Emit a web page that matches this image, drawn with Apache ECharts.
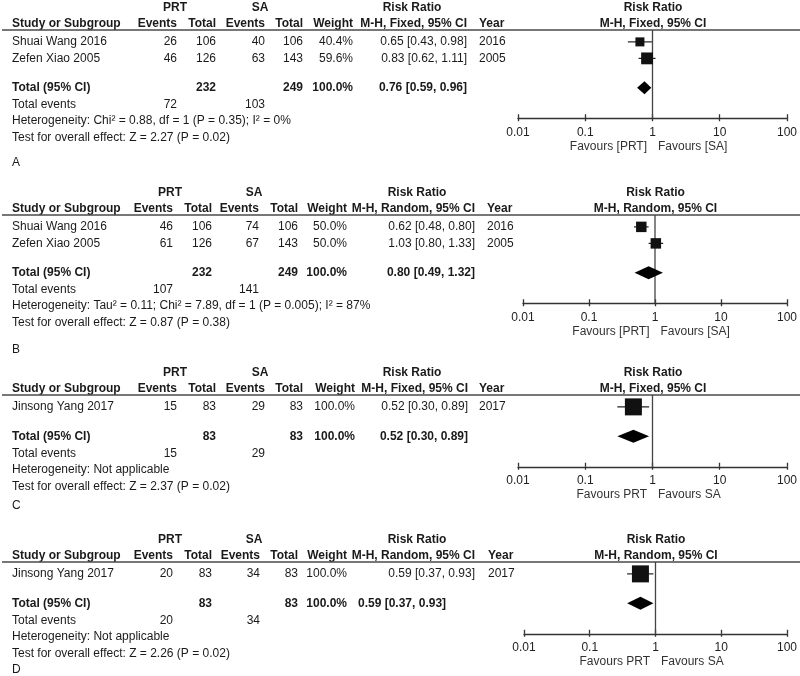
<!DOCTYPE html>
<html><head><meta charset="utf-8">
<script src="https://cdn.jsdelivr.net/npm/echarts@6/dist/echarts.min.js"></script>
<style>html,body{margin:0;padding:0;background:#fff}#c{width:800px;height:676px}</style>
</head><body><div id="c"></div>
<script>
// ---------------- DATA ----------------
const panelLabels = ['A', 'B', 'C', 'D'];
const methodLabels = ['M-H, Fixed, 95% CI', 'M-H, Random, 95% CI', 'M-H, Fixed, 95% CI', 'M-H, Random, 95% CI'];

const studiesA = ['Shuai Wang 2016', 'Zefen Xiao 2005'];
const prtEventsA = [26, 46];
const prtTotalA = [106, 126];
const saEventsA = [40, 63];
const saTotalA = [106, 143];
const weightA = [40.4, 59.6];
const rrA = [0.65, 0.83];
const lowA = [0.43, 0.62];
const highA = [0.98, 1.11];
const yearA = [2016, 2005];

const studiesB = ['Shuai Wang 2016', 'Zefen Xiao 2005'];
const prtEventsB = [46, 61];
const prtTotalB = [106, 126];
const saEventsB = [74, 67];
const saTotalB = [106, 143];
const weightB = [50.0, 50.0];
const rrB = [0.62, 1.03];
const lowB = [0.48, 0.80];
const highB = [0.80, 1.33];
const yearB = [2016, 2005];

const studiesC = ['Jinsong Yang 2017'];
const prtEventsC = [15];
const prtTotalC = [83];
const saEventsC = [29];
const saTotalC = [83];
const weightC = [100.0];
const rrC = [0.52];
const lowC = [0.30];
const highC = [0.89];
const yearC = [2017];

const studiesD = ['Jinsong Yang 2017'];
const prtEventsD = [20];
const prtTotalD = [83];
const saEventsD = [34];
const saTotalD = [83];
const weightD = [100.0];
const rrD = [0.59];
const lowD = [0.37];
const highD = [0.93];
const yearD = [2017];

const totalPrtN = [232, 232, 83, 83];
const totalSaN = [249, 249, 83, 83];
const totalPrtEvents = [72, 107, 15, 20];
const totalSaEvents = [103, 141, 29, 34];
const totalRR = [0.76, 0.80, 0.52, 0.59];
const totalLow = [0.59, 0.49, 0.30, 0.37];
const totalHigh = [0.96, 1.32, 0.89, 0.93];
const heterogeneityText = [
  'Heterogeneity: Chi\u00b2 = 0.88, df = 1 (P = 0.35); I\u00b2 = 0%',
  'Heterogeneity: Tau\u00b2 = 0.11; Chi\u00b2 = 7.89, df = 1 (P = 0.005); I\u00b2 = 87%',
  'Heterogeneity: Not applicable',
  'Heterogeneity: Not applicable'
];
const overallText = [
  'Test for overall effect: Z = 2.27 (P = 0.02)',
  'Test for overall effect: Z = 0.87 (P = 0.38)',
  'Test for overall effect: Z = 2.37 (P = 0.02)',
  'Test for overall effect: Z = 2.26 (P = 0.02)'
];
const favoursLeft = ['Favours [PRT]', 'Favours [PRT]', 'Favours PRT', 'Favours PRT'];
const favoursRight = ['Favours [SA]', 'Favours [SA]', 'Favours SA', 'Favours SA'];
const axisTickValues = [0.01, 0.1, 1, 10, 100];
const axisTickLabels = ['0.01', '0.1', '1', '10', '100'];

// --------------- LAYOUT ---------------
const panelsData = [
  {studies: studiesA, pe: prtEventsA, pt: prtTotalA, se: saEventsA, st: saTotalA, w: weightA, rr: rrA, lo: lowA, hi: highA, yr: yearA},
  {studies: studiesB, pe: prtEventsB, pt: prtTotalB, se: saEventsB, st: saTotalB, w: weightB, rr: rrB, lo: lowB, hi: highB, yr: yearB},
  {studies: studiesC, pe: prtEventsC, pt: prtTotalC, se: saEventsC, st: saTotalC, w: weightC, rr: rrC, lo: lowC, hi: highC, yr: yearC},
  {studies: studiesD, pe: prtEventsD, pt: prtTotalD, se: saEventsD, st: saTotalD, w: weightD, rr: rrD, lo: lowD, hi: highD, yr: yearD}
];
const layouts = [
  {line: 30,  letterY: 163, cols: [177, 216, 265, 303, 353], rr: 467, year: 479, plotL: 518, plotR: 788, prtC: 175, saC: 260, rrC: 412, totalAlign: 'right'},
  {line: 215, letterY: 350, cols: [173, 212, 259, 298, 347], rr: 475, year: 487, plotL: 523, plotR: 788, prtC: 170, saC: 254, rrC: 417, totalAlign: 'right'},
  {line: 395, letterY: 506, cols: [177, 216, 265, 303, 355], rr: 468, year: 479, plotL: 518, plotR: 788, prtC: 175, saC: 260, rrC: 412, totalAlign: 'right'},
  {line: 562, letterY: 670, cols: [173, 212, 260, 298, 347], rr: 475, year: 488, plotL: 524, plotR: 788, prtC: 170, saC: 254, rrC: 417, totalAlign: 'left', totalX: 358}
];
const ROW_H = 16.5;
const FONT = '"Liberation Sans", Arial, Helvetica, sans-serif';
const INK = '#1a1a1a';

function fmt2(v) { return v.toFixed(2); }
function ciText(r, l, h) { return fmt2(r) + ' [' + fmt2(l) + ', ' + fmt2(h) + ']'; }
function txt(x, y, s, align, bold, color) {
  return {
    type: 'text', x: x, y: y, silent: true,
    style: {text: s, align: align || 'left', textAlign: align || 'left', verticalAlign: 'middle', textVerticalAlign: 'middle',
      fontFamily: FONT, fontSize: 12, fontWeight: bold ? 'bold' : 'normal', fill: color || INK}
  };
}

const graphics = [];
const grids = [], xAxes = [], yAxes = [], series = [];

panelsData.forEach((pd, p) => {
  const L = layouts[p];
  const n = pd.studies.length;
  const studyY = i => L.line + (i + 0.72) * ROW_H;
  const totalRow = n + 1.5;
  const totalY = L.line + totalRow * ROW_H;
  const axisY = totalY + 30.5;
  const yMax = (axisY - L.line) / ROW_H;
  const xMid = (L.plotL + L.plotR) / 2;

  // headers
  const h1 = L.line - 22, h2 = L.line - 6;
  graphics.push(txt(L.prtC, h1, 'PRT', 'center', true));
  graphics.push(txt(L.saC, h1, 'SA', 'center', true));
  graphics.push(txt(L.rrC, h1, 'Risk Ratio', 'center', true));
  graphics.push(txt(xMid, h1, 'Risk Ratio', 'center', true));
  graphics.push(txt(12, h2, 'Study or Subgroup', 'left', true));
  graphics.push(txt(L.cols[0], h2, 'Events', 'right', true));
  graphics.push(txt(L.cols[1], h2, 'Total', 'right', true));
  graphics.push(txt(L.cols[2], h2, 'Events', 'right', true));
  graphics.push(txt(L.cols[3], h2, 'Total', 'right', true));
  graphics.push(txt(L.cols[4], h2, 'Weight', 'right', true));
  graphics.push(txt(L.rr, h2, methodLabels[p], 'right', true));
  graphics.push(txt(L.year, h2, 'Year', 'left', true));
  graphics.push(txt(xMid, h2, methodLabels[p], 'center', true));
  graphics.push({type: 'line', silent: true, shape: {x1: 2, y1: L.line, x2: 800, y2: L.line}, style: {stroke: '#4a4a4a', lineWidth: 1.6}});

  // study rows
  pd.studies.forEach((s, i) => {
    const y = studyY(i);
    graphics.push(txt(12, y, s, 'left'));
    graphics.push(txt(L.cols[0], y, String(pd.pe[i]), 'right'));
    graphics.push(txt(L.cols[1], y, String(pd.pt[i]), 'right'));
    graphics.push(txt(L.cols[2], y, String(pd.se[i]), 'right'));
    graphics.push(txt(L.cols[3], y, String(pd.st[i]), 'right'));
    graphics.push(txt(L.cols[4], y, pd.w[i].toFixed(1) + '%', 'right'));
    graphics.push(txt(L.rr, y, ciText(pd.rr[i], pd.lo[i], pd.hi[i]), 'right'));
    graphics.push(txt(L.year, y, String(pd.yr[i]), 'left'));
  });

  // total rows
  graphics.push(txt(12, totalY, 'Total (95% CI)', 'left', true));
  graphics.push(txt(L.cols[1], totalY, String(totalPrtN[p]), 'right', true));
  graphics.push(txt(L.cols[3], totalY, String(totalSaN[p]), 'right', true));
  graphics.push(txt(L.cols[4], totalY, '100.0%', 'right', true));
  const tTxt = ciText(totalRR[p], totalLow[p], totalHigh[p]);
  if (L.totalAlign === 'left') graphics.push(txt(L.totalX, totalY, tTxt, 'left', true));
  else graphics.push(txt(L.rr, totalY, tTxt, 'right', true));
  graphics.push(txt(12, totalY + 17, 'Total events', 'left'));
  graphics.push(txt(L.cols[0], totalY + 17, String(totalPrtEvents[p]), 'right'));
  graphics.push(txt(L.cols[2], totalY + 17, String(totalSaEvents[p]), 'right'));
  graphics.push(txt(12, totalY + 33, heterogeneityText[p], 'left'));
  graphics.push(txt(12, totalY + 50, overallText[p], 'left'));
  graphics.push(txt(12, L.letterY, panelLabels[p], 'left'));

  // favours
  const x1 = L.plotL + (L.plotR - L.plotL) / 2;
  graphics.push(txt(x1 - 6, axisY + 28, favoursLeft[p], 'right', false, '#333'));
  graphics.push(txt(x1 + 5, axisY + 28, favoursRight[p], 'left', false, '#333'));

  // plot
  grids.push({left: L.plotL, top: L.line, width: L.plotR - L.plotL, height: axisY - L.line, containLabel: false});
  const baseX = {
    type: 'log', logBase: 10, min: 0.01, max: 100, gridIndex: p, position: 'bottom', splitNumber: 4,
    splitLine: {show: false}, minorTick: {show: false}
  };
  xAxes.push(Object.assign({}, baseX, {
    axisLine: {show: true, onZero: false, lineStyle: {color: '#333', width: 1.3}},
    axisTick: {show: true, inside: false, length: 3, lineStyle: {color: '#333', width: 1.3}},
    axisLabel: {show: true, color: '#222', fontSize: 12, fontFamily: FONT, margin: 8, showMinLabel: true, showMaxLabel: true,
      formatter: v => {
        const k = axisTickValues.findIndex(t => Math.abs(Math.log10(t) - Math.log10(v)) < 1e-6);
        return k >= 0 ? axisTickLabels[k] : '';
      }}
  }));
  xAxes.push(Object.assign({}, baseX, {
    axisLine: {show: false, onZero: false},
    axisTick: {show: true, inside: true, length: 4, lineStyle: {color: '#333', width: 1.3}},
    axisLabel: {show: false}
  }));
  yAxes.push({type: 'value', gridIndex: p, inverse: true, min: 0, max: yMax, show: false});

  const xi = 2 * p;
  // vertical line of no effect
  series.push({
    type: 'line', xAxisIndex: xi, yAxisIndex: p, symbol: 'none', silent: true, animation: false,
    lineStyle: {color: '#444', width: 1.3}, data: [[1, 0], [1, yMax]], z: 1
  });
  // studies
  series.push({
    type: 'custom', xAxisIndex: xi, yAxisIndex: p, silent: true, animation: false, z: 3,
    encode: {x: [0, 1, 2], y: 3},
    data: pd.studies.map((s, i) => [pd.rr[i], pd.lo[i], pd.hi[i], i + 0.72, pd.w[i]]),
    renderItem: (params, api) => {
      const row = api.value(3);
      const c = api.coord([api.value(0), row]);
      const l = api.coord([api.value(1), row]);
      const h = api.coord([api.value(2), row]);
      const s = 17 * Math.pow(api.value(4) / 100, 0.7);
      return {type: 'group', children: [
        {type: 'line', shape: {x1: l[0], y1: c[1], x2: h[0], y2: c[1]}, style: {stroke: '#222', lineWidth: 1.2}},
        {type: 'rect', shape: {x: c[0] - s / 2, y: c[1] - s / 2, width: s, height: s}, style: {fill: '#111'}}
      ]};
    }
  });
  // pooled diamond
  series.push({
    type: 'custom', xAxisIndex: xi, yAxisIndex: p, silent: true, animation: false, z: 3,
    encode: {x: [0, 1, 2], y: 3},
    data: [[totalRR[p], totalLow[p], totalHigh[p], totalRow]],
    renderItem: (params, api) => {
      const row = api.value(3);
      const c = api.coord([api.value(0), row]);
      const l = api.coord([api.value(1), row]);
      const h = api.coord([api.value(2), row]);
      const hh = 6.5;
      return {type: 'polygon', shape: {points: [[l[0], c[1]], [c[0], c[1] - hh], [h[0], c[1]], [c[0], c[1] + hh]]},
        style: {fill: '#000'}};
    }
  });
});

const chart = echarts.init(document.getElementById('c'), null, {renderer: 'canvas'});
chart.setOption({
  animation: false,
  backgroundColor: '#fff',
  grid: grids,
  xAxis: xAxes,
  yAxis: yAxes,
  series: series,
  graphic: graphics
});
</script>
</body></html>
